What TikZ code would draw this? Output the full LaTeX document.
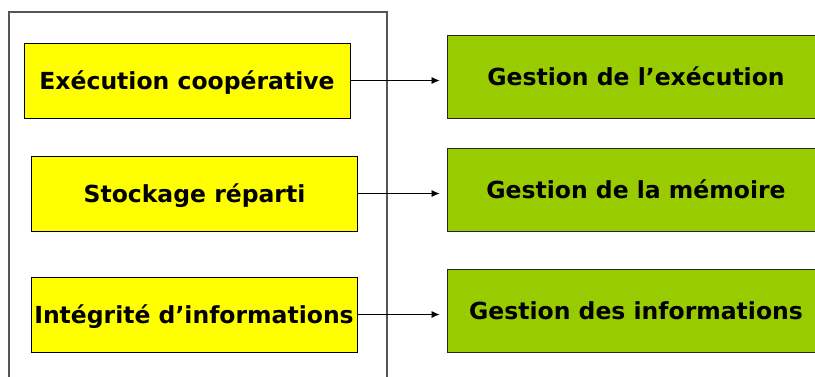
\documentclass[tikz,border=0pt]{standalone}
\usepackage{fontspec}
\usepackage{xcolor}
\usetikzlibrary{arrows.meta}
\newfontfamily\boxfont{DejaVu Sans}

\definecolor{boxyellow}{HTML}{FFFF00}
\definecolor{boxgreen}{HTML}{99CC00}
\definecolor{framegray}{HTML}{555555}

\tikzset{
    service/.style={draw=black,line width=0.9pt,fill=boxyellow,inner sep=0pt,
        minimum width=326pt,minimum height=75pt,text height=17pt,text depth=0pt,
        font=\boxfont\bfseries\fontsize{23.5}{28}\selectfont},
    manager/.style={draw=black!85,line width=0.9pt,fill=boxgreen,inner sep=0pt,
        minimum width=378pt,minimum height=83pt,text height=17pt,text depth=-2pt,
        font=\boxfont\bfseries\fontsize{23.5}{28}\selectfont},
    link/.style={draw=black,line width=0.8pt,-{Latex[length=8pt,width=7pt]},shorten >=7pt}
}

\begin{document}
\begin{tikzpicture}[x=1pt,y=-1pt]
        \useasboundingbox (0,0) rectangle (815,376);

        % open frame around the services
        \draw[framegray,line width=1.2pt] (9,380) -- (9,12) -- (387,12) -- (387,380);

        \node[service] (exec) at (187,80.5)  {Exécution coopérative};
        \node[service] (stock) at (194.5,193.5) {Stockage réparti};
        \node[service] (integ) at (194,314.5) {Intégrité d’informations};

        \node[manager] (gexec) at (636,76.5) {Gestion de l’exécution};
        \node[manager] (gmem)  at (636,190)  {Gestion de la mémoire};
        \node[manager] (ginfo) at (636,311)  {Gestion des informations};

        \draw[link] (exec.east)  -- (exec.east -| gexec.west);
        \draw[link] (stock.east) -- (stock.east -| gmem.west);
        \draw[link] (integ.east) -- (integ.east -| ginfo.west);
    \end{tikzpicture}
\end{document}
